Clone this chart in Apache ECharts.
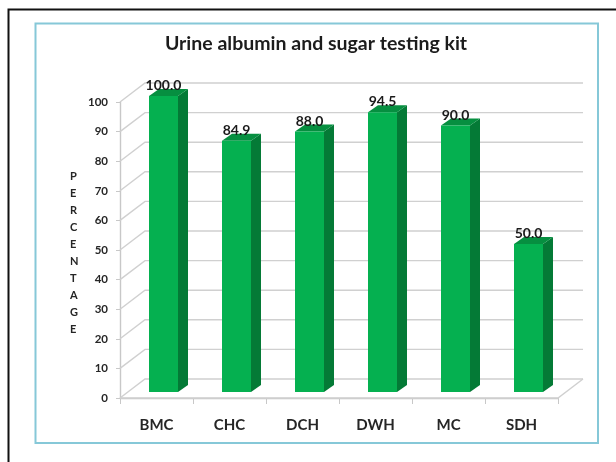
<!DOCTYPE html>
<html><head><meta charset="utf-8">
<style>html,body{margin:0;padding:0;background:#fff}#c{width:616px;height:462px}</style>
<script src="https://cdn.jsdelivr.net/npm/echarts@6/dist/echarts.min.js"></script>
</head><body><div id="c"></div>
<script>
var categories = ['BMC','CHC','DCH','DWH','MC','SDH'];
var percentages = [100.0,84.9,88.0,94.5,90.0,50.0];
var ticks = [0,10,20,30,40,50,60,70,80,90,100];
var titleText = 'Urine albumin and sugar testing kit';
var yName = ['P','E','R','C','E','N','T','A','G','E'];

var FONT = 'Lato, "Open Sans", sans-serif';
var chart = echarts.init(document.getElementById('c'), null, {renderer:'canvas'});
var wallDx = 25, wallDy = -19;   // depth of the floor
var barDx = 7, barDy = -6;       // position of bar's front plane
var sideDx = 10, sideDy = -7;    // bar depth
var barW = 29;

function renderWall(params, api){
  var rect = params.coordSys;
  var y = api.coord([0, api.value(0)])[1];
  var x0 = rect.x, x1 = rect.x + rect.width;
  var children = [{
    type:'polyline',
    shape:{points:[[x0,y],[x0+wallDx,y+wallDy],[x1+wallDx,y+wallDy]]},
    style:{stroke:'#d0d0d0',lineWidth:1.4,fill:null}
  }];
  if (api.value(0) === 0) {
    children.push({type:'polyline',
      shape:{points:[[x0,y],[x1,y],[x1+wallDx,y+wallDy]]},
      style:{stroke:'#d0d0d0',lineWidth:1.4,fill:null}});
  }
  return {type:'group',children:children};
}

function renderBar(params, api){
  var idx = api.value(0);
  var top = api.coord([idx, api.value(1)]);
  var base = api.coord([idx, 0]);
  var cx = top[0] + barDx;
  var l = cx - barW/2, r = cx + barW/2;
  var t = top[1] + barDy, b = base[1] + barDy;
  return {type:'group',children:[
    {type:'polygon',shape:{points:[[r,t],[r+sideDx,t+sideDy],[r+sideDx,b+sideDy],[r,b]]},style:{fill:'#047a36'}},
    {type:'polygon',shape:{points:[[l,t],[l+sideDx,t+sideDy],[r+sideDx,t+sideDy],[r,t]]},style:{fill:'#068f40'}},
    {type:'rect',shape:{x:l,y:t,width:barW,height:b-t},style:{fill:'#05b050'}},
    {type:'text',x:cx,y:t-10.5,style:{text:api.value(1).toFixed(1),fill:'#1a1a1a',font:'bold 14px '+FONT,align:'center',verticalAlign:'middle'}}
  ]};
}

chart.setOption({
  animation:false,
  backgroundColor:'#fff',
  title:{text:titleText,left:311,top:29,textAlign:'center',
    textStyle:{fontFamily:FONT,fontWeight:'bold',fontSize:19.5,color:'#1c1c1c'}},
  grid:{left:120,right:58,top:102,bottom:64},
  xAxis:{type:'category',data:categories,
    axisLine:{lineStyle:{color:'#c8c8c8',width:1.4}},
    axisTick:{show:true,alignWithLabel:false,length:6,lineStyle:{color:'#c8c8c8'}},
    axisLabel:{margin:20,fontFamily:FONT,fontWeight:'bold',fontSize:15,color:'#262626'},
    splitLine:{show:false}},
  yAxis:{type:'value',min:0,max:100,interval:10,
    axisLine:{show:true,lineStyle:{color:'#c8c8c8',width:1.4}},
    axisTick:{show:true,length:4,lineStyle:{color:'#c8c8c8'}},
    axisLabel:{margin:12,fontFamily:FONT,fontWeight:'bold',fontSize:11.5,color:'#262626'},
    splitLine:{show:false}},
  graphic:[
    {type:'polyline',silent:true,z:-1,shape:{points:[[8.5,462],[8.5,9.5],[616,9.5]]},style:{stroke:'#111',lineWidth:2,fill:null}},
    {type:'rect',silent:true,z:-1,shape:{x:35.5,y:23.5,width:562.5,height:419.5},style:{stroke:'#86c8d8',lineWidth:2,fill:'#fff'}},
    {type:'text',silent:true,left:70,top:168,style:{text:yName.join('\n'),fill:'#262626',font:'bold 11px '+FONT,lineHeight:17,align:'center'}}
  ],
  series:[
    {type:'custom',coordinateSystem:'cartesian2d',renderItem:renderWall,z:1,silent:true,
     encode:{y:0},data:ticks.map(function(v){return [v];})},
    {type:'custom',coordinateSystem:'cartesian2d',renderItem:renderBar,z:2,silent:true,
     encode:{x:0,y:1},data:percentages.map(function(v,i){return [i,v];})}
  ]
});
</script></body></html>
